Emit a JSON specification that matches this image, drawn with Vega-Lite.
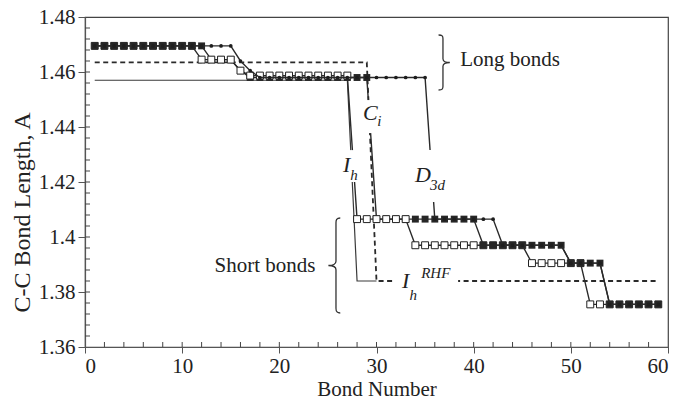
{
  "$schema": "https://vega.github.io/schema/vega-lite/v6.json",
  "width": 583,
  "height": 330,
  "autosize": {"type": "none"},
  "padding": {"left": 85, "top": 17, "right": 10, "bottom": 56},
  "background": "white",
  "datasets": {
    "bonds": [
      {"series":"RHF","bond":1,"length":1.4635},{"series":"RHF","bond":2,"length":1.4635},{"series":"RHF","bond":3,"length":1.4635},{"series":"RHF","bond":4,"length":1.4635},{"series":"RHF","bond":5,"length":1.4635},{"series":"RHF","bond":6,"length":1.4635},{"series":"RHF","bond":7,"length":1.4635},{"series":"RHF","bond":8,"length":1.4635},{"series":"RHF","bond":9,"length":1.4635},{"series":"RHF","bond":10,"length":1.4635},
      {"series":"RHF","bond":11,"length":1.4635},{"series":"RHF","bond":12,"length":1.4635},{"series":"RHF","bond":13,"length":1.4635},{"series":"RHF","bond":14,"length":1.4635},{"series":"RHF","bond":15,"length":1.4635},{"series":"RHF","bond":16,"length":1.4635},{"series":"RHF","bond":17,"length":1.4635},{"series":"RHF","bond":18,"length":1.4635},{"series":"RHF","bond":19,"length":1.4635},{"series":"RHF","bond":20,"length":1.4635},
      {"series":"RHF","bond":21,"length":1.4635},{"series":"RHF","bond":22,"length":1.4635},{"series":"RHF","bond":23,"length":1.4635},{"series":"RHF","bond":24,"length":1.4635},{"series":"RHF","bond":25,"length":1.4635},{"series":"RHF","bond":26,"length":1.4635},{"series":"RHF","bond":27,"length":1.4635},{"series":"RHF","bond":28,"length":1.4635},{"series":"RHF","bond":29,"length":1.4635},
      {"series":"RHF","bond":30,"length":1.384},{"series":"RHF","bond":31,"length":1.384},{"series":"RHF","bond":32,"length":1.384},{"series":"RHF","bond":33,"length":1.384},{"series":"RHF","bond":34,"length":1.384},{"series":"RHF","bond":35,"length":1.384},{"series":"RHF","bond":36,"length":1.384},{"series":"RHF","bond":37,"length":1.384},{"series":"RHF","bond":38,"length":1.384},{"series":"RHF","bond":39,"length":1.384},
      {"series":"RHF","bond":40,"length":1.384},{"series":"RHF","bond":41,"length":1.384},{"series":"RHF","bond":42,"length":1.384},{"series":"RHF","bond":43,"length":1.384},{"series":"RHF","bond":44,"length":1.384},{"series":"RHF","bond":45,"length":1.384},{"series":"RHF","bond":46,"length":1.384},{"series":"RHF","bond":47,"length":1.384},{"series":"RHF","bond":48,"length":1.384},{"series":"RHF","bond":49,"length":1.384},
      {"series":"RHF","bond":50,"length":1.384},{"series":"RHF","bond":51,"length":1.384},{"series":"RHF","bond":52,"length":1.384},{"series":"RHF","bond":53,"length":1.384},{"series":"RHF","bond":54,"length":1.384},{"series":"RHF","bond":55,"length":1.384},{"series":"RHF","bond":56,"length":1.384},{"series":"RHF","bond":57,"length":1.384},{"series":"RHF","bond":58,"length":1.384},{"series":"RHF","bond":59,"length":1.384},

      {"series":"Ih","bond":1,"length":1.457},{"series":"Ih","bond":2,"length":1.457},{"series":"Ih","bond":3,"length":1.457},{"series":"Ih","bond":4,"length":1.457},{"series":"Ih","bond":5,"length":1.457},{"series":"Ih","bond":6,"length":1.457},{"series":"Ih","bond":7,"length":1.457},{"series":"Ih","bond":8,"length":1.457},{"series":"Ih","bond":9,"length":1.457},{"series":"Ih","bond":10,"length":1.457},
      {"series":"Ih","bond":11,"length":1.457},{"series":"Ih","bond":12,"length":1.457},{"series":"Ih","bond":13,"length":1.457},{"series":"Ih","bond":14,"length":1.457},{"series":"Ih","bond":15,"length":1.457},{"series":"Ih","bond":16,"length":1.457},{"series":"Ih","bond":17,"length":1.457},{"series":"Ih","bond":18,"length":1.457},{"series":"Ih","bond":19,"length":1.457},{"series":"Ih","bond":20,"length":1.457},
      {"series":"Ih","bond":21,"length":1.457},{"series":"Ih","bond":22,"length":1.457},{"series":"Ih","bond":23,"length":1.457},{"series":"Ih","bond":24,"length":1.457},{"series":"Ih","bond":25,"length":1.457},{"series":"Ih","bond":26,"length":1.457},{"series":"Ih","bond":27,"length":1.457},
      {"series":"Ih","bond":28,"length":1.384},{"series":"Ih","bond":29,"length":1.384},{"series":"Ih","bond":30,"length":1.384},

      {"series":"Ci","bond":1,"length":1.4695},{"series":"Ci","bond":2,"length":1.4695},{"series":"Ci","bond":3,"length":1.4695},{"series":"Ci","bond":4,"length":1.4695},{"series":"Ci","bond":5,"length":1.4695},{"series":"Ci","bond":6,"length":1.4695},{"series":"Ci","bond":7,"length":1.4695},{"series":"Ci","bond":8,"length":1.4695},{"series":"Ci","bond":9,"length":1.4695},{"series":"Ci","bond":10,"length":1.4695},
      {"series":"Ci","bond":11,"length":1.4695},{"series":"Ci","bond":12,"length":1.4645},{"series":"Ci","bond":13,"length":1.4645},{"series":"Ci","bond":14,"length":1.4645},{"series":"Ci","bond":15,"length":1.4645},{"series":"Ci","bond":16,"length":1.4605},{"series":"Ci","bond":17,"length":1.4587},{"series":"Ci","bond":18,"length":1.4587},{"series":"Ci","bond":19,"length":1.4587},{"series":"Ci","bond":20,"length":1.4587},
      {"series":"Ci","bond":21,"length":1.4587},{"series":"Ci","bond":22,"length":1.4587},{"series":"Ci","bond":23,"length":1.4587},{"series":"Ci","bond":24,"length":1.4587},{"series":"Ci","bond":25,"length":1.4587},{"series":"Ci","bond":26,"length":1.4587},{"series":"Ci","bond":27,"length":1.4587},{"series":"Ci","bond":28,"length":1.4065},{"series":"Ci","bond":29,"length":1.4065},{"series":"Ci","bond":30,"length":1.4065},
      {"series":"Ci","bond":31,"length":1.4065},{"series":"Ci","bond":32,"length":1.4065},{"series":"Ci","bond":33,"length":1.4065},{"series":"Ci","bond":34,"length":1.397},{"series":"Ci","bond":35,"length":1.397},{"series":"Ci","bond":36,"length":1.397},{"series":"Ci","bond":37,"length":1.397},{"series":"Ci","bond":38,"length":1.397},{"series":"Ci","bond":39,"length":1.397},{"series":"Ci","bond":40,"length":1.397},
      {"series":"Ci","bond":41,"length":1.397},{"series":"Ci","bond":42,"length":1.397},{"series":"Ci","bond":43,"length":1.397},{"series":"Ci","bond":44,"length":1.397},{"series":"Ci","bond":45,"length":1.397},{"series":"Ci","bond":46,"length":1.3905},{"series":"Ci","bond":47,"length":1.3905},{"series":"Ci","bond":48,"length":1.3905},{"series":"Ci","bond":49,"length":1.3905},{"series":"Ci","bond":50,"length":1.3905},
      {"series":"Ci","bond":51,"length":1.3905},{"series":"Ci","bond":52,"length":1.3755},{"series":"Ci","bond":53,"length":1.3755},{"series":"Ci","bond":54,"length":1.3755},{"series":"Ci","bond":55,"length":1.3755},{"series":"Ci","bond":56,"length":1.3755},{"series":"Ci","bond":57,"length":1.3755},{"series":"Ci","bond":58,"length":1.3755},{"series":"Ci","bond":59,"length":1.3755},

      {"series":"Ci2","bond":1,"length":1.4695},{"series":"Ci2","bond":2,"length":1.4695},{"series":"Ci2","bond":3,"length":1.4695},{"series":"Ci2","bond":4,"length":1.4695},{"series":"Ci2","bond":5,"length":1.4695},{"series":"Ci2","bond":6,"length":1.4695},{"series":"Ci2","bond":7,"length":1.4695},{"series":"Ci2","bond":8,"length":1.4695},{"series":"Ci2","bond":9,"length":1.4695},{"series":"Ci2","bond":10,"length":1.4695},
      {"series":"Ci2","bond":11,"length":1.4695},{"series":"Ci2","bond":12,"length":1.4695},{"series":"Ci2","bond":13,"length":1.4645},{"series":"Ci2","bond":14,"length":1.4645},{"series":"Ci2","bond":15,"length":1.4645},{"series":"Ci2","bond":16,"length":1.4605},{"series":"Ci2","bond":17,"length":1.458},{"series":"Ci2","bond":18,"length":1.458},{"series":"Ci2","bond":19,"length":1.458},{"series":"Ci2","bond":20,"length":1.458},
      {"series":"Ci2","bond":21,"length":1.458},{"series":"Ci2","bond":22,"length":1.458},{"series":"Ci2","bond":23,"length":1.458},{"series":"Ci2","bond":24,"length":1.458},{"series":"Ci2","bond":25,"length":1.458},{"series":"Ci2","bond":26,"length":1.458},{"series":"Ci2","bond":27,"length":1.458},{"series":"Ci2","bond":28,"length":1.458},{"series":"Ci2","bond":29,"length":1.458},{"series":"Ci2","bond":30,"length":1.4065},
      {"series":"Ci2","bond":31,"length":1.4065},{"series":"Ci2","bond":32,"length":1.4065},{"series":"Ci2","bond":33,"length":1.4065},{"series":"Ci2","bond":34,"length":1.4065},{"series":"Ci2","bond":35,"length":1.4065},{"series":"Ci2","bond":36,"length":1.4065},{"series":"Ci2","bond":37,"length":1.4065},{"series":"Ci2","bond":38,"length":1.4065},{"series":"Ci2","bond":39,"length":1.4065},{"series":"Ci2","bond":40,"length":1.4065},
      {"series":"Ci2","bond":41,"length":1.397},{"series":"Ci2","bond":42,"length":1.397},{"series":"Ci2","bond":43,"length":1.397},{"series":"Ci2","bond":44,"length":1.397},{"series":"Ci2","bond":45,"length":1.397},{"series":"Ci2","bond":46,"length":1.397},{"series":"Ci2","bond":47,"length":1.397},{"series":"Ci2","bond":48,"length":1.397},{"series":"Ci2","bond":49,"length":1.397},{"series":"Ci2","bond":50,"length":1.3905},
      {"series":"Ci2","bond":51,"length":1.3905},{"series":"Ci2","bond":52,"length":1.3905},{"series":"Ci2","bond":53,"length":1.3905},{"series":"Ci2","bond":54,"length":1.3755},{"series":"Ci2","bond":55,"length":1.3755},{"series":"Ci2","bond":56,"length":1.3755},{"series":"Ci2","bond":57,"length":1.3755},{"series":"Ci2","bond":58,"length":1.3755},{"series":"Ci2","bond":59,"length":1.3755},

      {"series":"D3d","bond":1,"length":1.4695},{"series":"D3d","bond":2,"length":1.4695},{"series":"D3d","bond":3,"length":1.4695},{"series":"D3d","bond":4,"length":1.4695},{"series":"D3d","bond":5,"length":1.4695},{"series":"D3d","bond":6,"length":1.4695},{"series":"D3d","bond":7,"length":1.4695},{"series":"D3d","bond":8,"length":1.4695},{"series":"D3d","bond":9,"length":1.4695},{"series":"D3d","bond":10,"length":1.4695},
      {"series":"D3d","bond":11,"length":1.4695},{"series":"D3d","bond":12,"length":1.4695},{"series":"D3d","bond":13,"length":1.4695},{"series":"D3d","bond":14,"length":1.4695},{"series":"D3d","bond":15,"length":1.4695},{"series":"D3d","bond":16,"length":1.464},{"series":"D3d","bond":17,"length":1.4605},{"series":"D3d","bond":18,"length":1.458},{"series":"D3d","bond":19,"length":1.458},{"series":"D3d","bond":20,"length":1.458},
      {"series":"D3d","bond":21,"length":1.458},{"series":"D3d","bond":22,"length":1.458},{"series":"D3d","bond":23,"length":1.458},{"series":"D3d","bond":24,"length":1.458},{"series":"D3d","bond":25,"length":1.458},{"series":"D3d","bond":26,"length":1.458},{"series":"D3d","bond":27,"length":1.458},{"series":"D3d","bond":28,"length":1.458},{"series":"D3d","bond":29,"length":1.458},{"series":"D3d","bond":30,"length":1.458},
      {"series":"D3d","bond":31,"length":1.458},{"series":"D3d","bond":32,"length":1.458},{"series":"D3d","bond":33,"length":1.458},{"series":"D3d","bond":34,"length":1.458},{"series":"D3d","bond":35,"length":1.458},{"series":"D3d","bond":36,"length":1.4065},{"series":"D3d","bond":37,"length":1.4065},{"series":"D3d","bond":38,"length":1.4065},{"series":"D3d","bond":39,"length":1.4065},{"series":"D3d","bond":40,"length":1.4065},
      {"series":"D3d","bond":41,"length":1.4065},{"series":"D3d","bond":42,"length":1.4065},{"series":"D3d","bond":43,"length":1.397},{"series":"D3d","bond":44,"length":1.397},{"series":"D3d","bond":45,"length":1.397},{"series":"D3d","bond":46,"length":1.397},{"series":"D3d","bond":47,"length":1.397},{"series":"D3d","bond":48,"length":1.397},{"series":"D3d","bond":49,"length":1.397},{"series":"D3d","bond":50,"length":1.3905},
      {"series":"D3d","bond":51,"length":1.3905},{"series":"D3d","bond":52,"length":1.3905},{"series":"D3d","bond":53,"length":1.3905},{"series":"D3d","bond":54,"length":1.3755},{"series":"D3d","bond":55,"length":1.3755},{"series":"D3d","bond":56,"length":1.3755},{"series":"D3d","bond":57,"length":1.3755},{"series":"D3d","bond":58,"length":1.3755},{"series":"D3d","bond":59,"length":1.3755}
    ],
    "minor_x": [
      {"bond":2},{"bond":4},{"bond":6},{"bond":8},{"bond":10},{"bond":12},{"bond":14},{"bond":16},{"bond":18},{"bond":20},
      {"bond":22},{"bond":24},{"bond":26},{"bond":28},{"bond":30},{"bond":32},{"bond":34},{"bond":36},{"bond":38},{"bond":40},
      {"bond":42},{"bond":44},{"bond":46},{"bond":48},{"bond":50},{"bond":52},{"bond":54},{"bond":56},{"bond":58}
    ],
    "minor_y": [
      {"length":1.364},{"length":1.368},{"length":1.372},{"length":1.376},{"length":1.38},{"length":1.384},{"length":1.388},{"length":1.392},{"length":1.396},{"length":1.4},
      {"length":1.404},{"length":1.408},{"length":1.412},{"length":1.416},{"length":1.42},{"length":1.424},{"length":1.428},{"length":1.432},{"length":1.436},{"length":1.44},
      {"length":1.444},{"length":1.448},{"length":1.452},{"length":1.456},{"length":1.46},{"length":1.464},{"length":1.468},{"length":1.472},{"length":1.476}
    ],
    "boxes": [
      {"label":"Ci","bond":28.6,"bond_end":30.9,"length":1.4378,"length_end":1.4498},
      {"label":"Ih","bond":26.2,"bond_end":28.5,"length":1.42,"length_end":1.4316},
      {"label":"D3d","bond":33.6,"bond_end":38.4,"length":1.4127,"length_end":1.4316},
      {"label":"IhRHF","bond":31.7,"bond_end":38.4,"length":1.3764,"length_end":1.3898}
    ],
    "braces": [
      {"group":"Long bonds","bond":36.84,"length":1.46345},
      {"group":"Short bonds","bond":25.83,"length":1.38964}
    ],
    "notes": [
      {"text":"Long bonds","bond":43.74,"length":1.46218},
      {"text":"Short bonds","bond":18.52,"length":1.38727}
    ],
    "symbols": [
      {"text":"C","bond":28.61,"length":1.44255},
      {"text":"I","bond":26.55,"length":1.42364},
      {"text":"D","bond":33.96,"length":1.42},
      {"text":"I","bond":32.62,"length":1.38145}
    ],
    "indices": [
      {"text":"i","bond":30.09,"length":1.44036},
      {"text":"h","bond":27.3,"length":1.42073},
      {"text":"3d","bond":35.51,"length":1.41709},
      {"text":"h","bond":33.4,"length":1.37709},
      {"text":"RHF","bond":34.6,"length":1.38509}
    ]
  },
  "layer": [
    {
      "data": {"name": "bonds"},
      "transform": [{"filter": "datum.series === 'RHF'"}],
      "mark": {"type": "line", "color": "#2a2a2a", "strokeWidth": 1.8, "strokeDash": [5, 3.5]},
      "encoding": {
        "x": {"field": "bond", "type": "quantitative",
          "scale": {"domain": [0, 60], "nice": false, "zero": false},
          "axis": {"orient": "bottom", "values": [0, 10, 20, 30, 40, 50, 60], "format": "d",
            "title": "Bond Number", "tickSize": 6, "labelPadding": 2, "titlePadding": 2,
            "labelFontSize": 21, "titleFontSize": 21, "grid": false}},
        "y": {"field": "length", "type": "quantitative",
          "scale": {"domain": [1.36, 1.48], "nice": false, "zero": false},
          "axis": {"orient": "left", "values": [1.36, 1.38, 1.4, 1.42, 1.44, 1.46, 1.48], "format": "~g",
            "title": "C-C Bond Length, A", "tickSize": 7, "labelPadding": 3, "titlePadding": 4,
            "titleY": 195, "labelFontSize": 21, "titleFontSize": 24, "grid": false}}
      }
    },
    {
      "data": {"name": "minor_x"},
      "mark": {"type": "tick", "orient": "vertical", "color": "#444", "size": 5, "thickness": 1, "yOffset": -2.5, "opacity": 1},
      "encoding": {
        "x": {"field": "bond", "type": "quantitative"},
        "y": {"datum": 1.36, "type": "quantitative"}
      }
    },
    {
      "data": {"name": "minor_y"},
      "mark": {"type": "tick", "orient": "horizontal", "color": "#444", "size": 5, "thickness": 1, "xOffset": 2.5, "opacity": 1},
      "encoding": {
        "y": {"field": "length", "type": "quantitative"},
        "x": {"datum": 0, "type": "quantitative"}
      }
    },
    {
      "data": {"name": "bonds"},
      "transform": [{"filter": "datum.series === 'Ih'"}],
      "mark": {"type": "line", "color": "#3a3a3a", "strokeWidth": 1.2},
      "encoding": {
        "x": {"field": "bond", "type": "quantitative"},
        "y": {"field": "length", "type": "quantitative"}
      }
    },
    {
      "data": {"name": "bonds"},
      "transform": [{"filter": "datum.series === 'Ci'"}],
      "mark": {"type": "line", "color": "#2a2a2a", "strokeWidth": 1.4},
      "encoding": {
        "x": {"field": "bond", "type": "quantitative"},
        "y": {"field": "length", "type": "quantitative"}
      }
    },
    {
      "data": {"name": "bonds"},
      "transform": [{"filter": "datum.series === 'Ci' && (datum.bond < 12 || datum.bond > 33)"}],
      "mark": {"type": "point", "shape": "square", "size": 48, "filled": true, "fill": "white", "stroke": "#222", "strokeWidth": 1, "opacity": 1},
      "encoding": {
        "x": {"field": "bond", "type": "quantitative"},
        "y": {"field": "length", "type": "quantitative"}
      }
    },
    {
      "data": {"name": "bonds"},
      "transform": [{"filter": "datum.series === 'Ci2'"}],
      "mark": {"type": "line", "color": "#2a2a2a", "strokeWidth": 1.4},
      "encoding": {
        "x": {"field": "bond", "type": "quantitative"},
        "y": {"field": "length", "type": "quantitative"}
      }
    },
    {
      "data": {"name": "bonds"},
      "transform": [{"filter": "datum.series === 'Ci2'"}],
      "mark": {"type": "point", "shape": "square", "size": 48, "filled": true, "color": "#262626", "opacity": 1},
      "encoding": {
        "x": {"field": "bond", "type": "quantitative"},
        "y": {"field": "length", "type": "quantitative"}
      }
    },
    {
      "data": {"name": "bonds"},
      "transform": [{"filter": "datum.series === 'Ci' && datum.bond >= 12 && datum.bond <= 33"}],
      "mark": {"type": "point", "shape": "square", "size": 48, "filled": true, "fill": "white", "stroke": "#222", "strokeWidth": 1, "opacity": 1},
      "encoding": {
        "x": {"field": "bond", "type": "quantitative"},
        "y": {"field": "length", "type": "quantitative"}
      }
    },
    {
      "data": {"name": "bonds"},
      "transform": [{"filter": "datum.series === 'D3d'"}],
      "mark": {"type": "line", "color": "#2a2a2a", "strokeWidth": 1.4},
      "encoding": {
        "x": {"field": "bond", "type": "quantitative"},
        "y": {"field": "length", "type": "quantitative"}
      }
    },
    {
      "data": {"name": "bonds"},
      "transform": [{"filter": "datum.series === 'D3d'"}],
      "mark": {"type": "point", "shape": "circle", "size": 14, "filled": true, "color": "#1e1e1e", "opacity": 1},
      "encoding": {
        "x": {"field": "bond", "type": "quantitative"},
        "y": {"field": "length", "type": "quantitative"}
      }
    },
    {
      "data": {"name": "boxes"},
      "mark": {"type": "rect", "fill": "white", "stroke": null},
      "encoding": {
        "x": {"field": "bond", "type": "quantitative"},
        "x2": {"field": "bond_end"},
        "y": {"field": "length", "type": "quantitative"},
        "y2": {"field": "length_end"}
      }
    },
    {
      "data": {"name": "braces"},
      "transform": [{"filter": "datum.group === 'Long bonds'"}],
      "mark": {"type": "point", "filled": false, "stroke": "#333", "strokeWidth": 1.3, "opacity": 1, "size": 3025,
        "shape": "M -0.16,-1 C -0.02,-1 0,-0.96 0,-0.86 L 0,-0.14 C 0,-0.04 0.1,0 0.25,0 C 0.1,0 0,0.04 0,0.14 L 0,0.86 C 0,0.96 -0.02,1 -0.16,1"},
      "encoding": {
        "x": {"field": "bond", "type": "quantitative"},
        "y": {"field": "length", "type": "quantitative"}
      }
    },
    {
      "data": {"name": "braces"},
      "transform": [{"filter": "datum.group === 'Short bonds'"}],
      "mark": {"type": "point", "filled": false, "stroke": "#333", "strokeWidth": 1.3, "opacity": 1, "size": 9025,
        "shape": "M 0.09,-1 C 0.01,-1 0,-0.96 0,-0.9 L 0,-0.09 C 0,-0.03 -0.06,0 -0.16,0 C -0.06,0 0,0.03 0,0.09 L 0,0.9 C 0,0.96 0.01,1 0.09,1"},
      "encoding": {
        "x": {"field": "bond", "type": "quantitative"},
        "y": {"field": "length", "type": "quantitative"}
      }
    },
    {
      "data": {"name": "notes"},
      "mark": {"type": "text", "font": "Liberation Serif", "fontSize": 21, "color": "#222", "align": "center", "baseline": "alphabetic"},
      "encoding": {
        "x": {"field": "bond", "type": "quantitative"},
        "y": {"field": "length", "type": "quantitative"},
        "text": {"field": "text"}
      }
    },
    {
      "data": {"name": "symbols"},
      "mark": {"type": "text", "font": "Liberation Serif", "fontStyle": "italic", "fontSize": 22, "color": "#222", "align": "left", "baseline": "alphabetic"},
      "encoding": {
        "x": {"field": "bond", "type": "quantitative"},
        "y": {"field": "length", "type": "quantitative"},
        "text": {"field": "text"}
      }
    },
    {
      "data": {"name": "indices"},
      "mark": {"type": "text", "font": "Liberation Serif", "fontStyle": "italic", "fontSize": 15, "color": "#222", "align": "left", "baseline": "alphabetic"},
      "encoding": {
        "x": {"field": "bond", "type": "quantitative"},
        "y": {"field": "length", "type": "quantitative"},
        "text": {"field": "text"}
      }
    }
  ],
  "config": {
    "view": {"stroke": "#444", "strokeWidth": 1.2},
    "axis": {
      "labelFont": "Liberation Serif", "titleFont": "Liberation Serif",
      "labelColor": "#222", "titleColor": "#222", "titleFontWeight": "normal",
      "domainColor": "#555", "tickColor": "#555", "domainWidth": 1.2, "tickWidth": 1
    }
  }
}
